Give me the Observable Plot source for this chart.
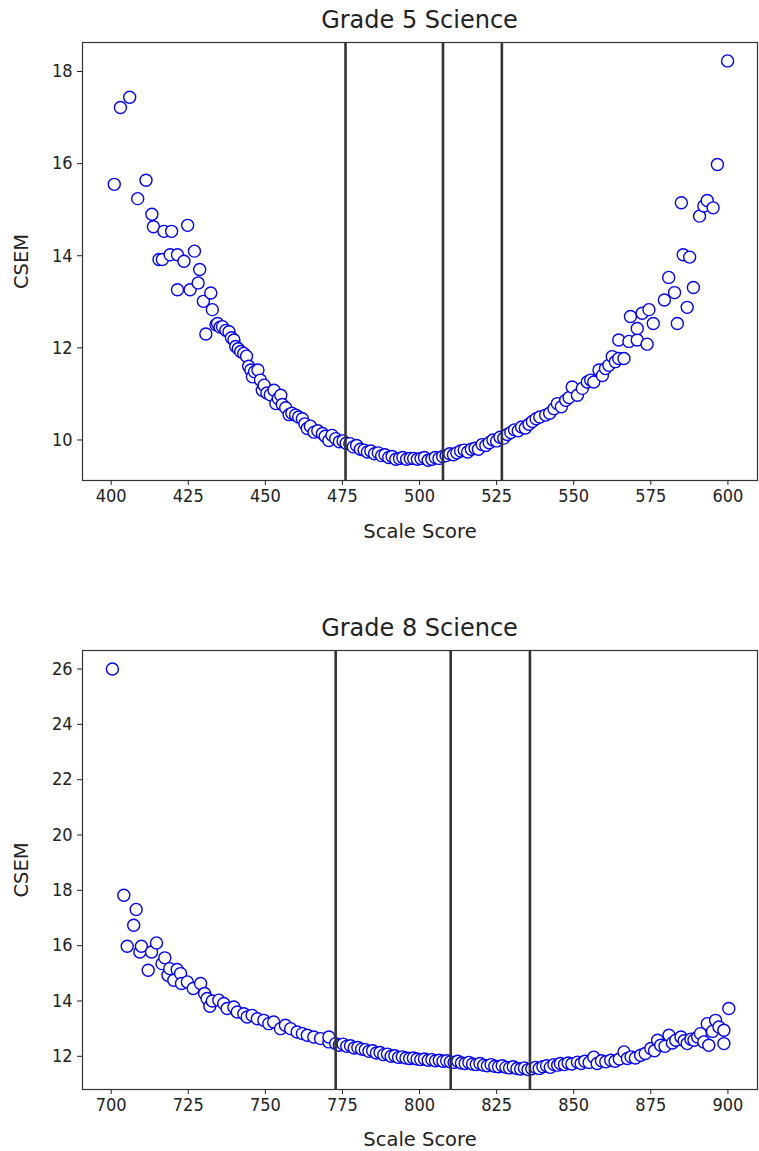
<!DOCTYPE html>
<html>
<head>
<meta charset="utf-8">
<script src="https://cdn.jsdelivr.net/npm/d3@7"></script>
<script src="https://cdn.jsdelivr.net/npm/@observablehq/plot@0.6"></script>
<style>
  html, body { margin: 0; padding: 0; background: #fff; }
  body { width: 759px; height: 1151px; position: relative; overflow: hidden; font-family: "DejaVu Sans", sans-serif; }
  .title { position: absolute; left: 82px; width: 675px; text-align: center; font-size: 24px; color: #222; line-height: 28px; white-space: nowrap; }
  .chart { position: absolute; left: 0; }
</style>
</head>
<body>
<div class="title" id="t1" style="top:6px">Grade 5 Science</div>
<div class="chart" id="c1" style="top:32px"></div>
<div class="title" id="t2" style="top:614px">Grade 8 Science</div>
<div class="chart" id="c2" style="top:640px"></div>
<script>
// ---- Grade 5 Science ----
const g5Score = [401,403,406,408.6,411.3,413.2,413.7,415.5,416.6,417.1,419.1,419.6,421.5,421.5,423.6,424.8,425.6,427.0,428.2,428.7,429.9,430.7,432.3,432.8,434.0,434.5,435.3,436.1,437.2,438.2,439.0,439.8,440.4,441.2,442.0,443.0,443.9,444.6,445.3,445.8,446.5,447.6,448.4,449.0,449.6,450.5,451.6,452.8,453.4,454.2,455.0,455.5,456.6,457.7,458.6,459.8,460.8,462.0,462.8,463.6,464.6,465.8,467.0,468.5,469.4,470.6,471.6,472.8,474.0,475.2,476.2,477.4,478.5,479.6,480.8,482.0,483.1,484.2,485.4,486.6,487.7,488.8,490.0,491.1,492.3,493.5,494.6,495.8,497.0,498.1,499.3,500.5,501.6,502.8,504.0,505.1,506.3,507.5,508.6,509.8,511.0,512.1,513.3,514.5,515.6,516.8,518.0,519.1,520.3,521.5,522.6,523.8,525.0,526.1,527.3,528.5,529.6,530.8,532.0,533.1,534.3,535.5,536.6,537.8,539.0,540.9,542.2,543.6,544.7,546.0,547.4,548.5,549.5,551.2,552.8,554.4,555.5,556.5,558.2,559.3,560.3,561.4,562.5,563.5,564.6,564.6,566.3,567.9,568.4,570.6,570.6,572.2,573.8,574.4,575.8,579.4,580.8,582.7,583.6,584.9,585.5,586.8,587.6,588.8,590.8,592.2,593.3,595.2,596.6,599.9];
const g5Csem = [15.55,17.22,17.44,15.24,15.64,14.90,14.63,13.92,13.92,14.53,14.02,14.53,14.02,13.26,13.88,14.66,13.26,14.10,13.41,13.70,13.01,12.30,13.19,12.83,12.50,12.53,12.45,12.46,12.38,12.35,12.22,12.17,12.03,11.98,11.92,11.88,11.82,11.60,11.52,11.37,11.48,11.52,11.30,11.08,11.19,11.02,10.98,11.08,10.79,10.90,10.97,10.77,10.70,10.55,10.58,10.54,10.50,10.46,10.35,10.25,10.30,10.17,10.20,10.14,10.08,9.99,10.10,10.03,9.96,9.98,9.93,9.92,9.85,9.88,9.80,9.78,9.74,9.76,9.70,9.72,9.66,9.68,9.62,9.64,9.58,9.60,9.62,9.58,9.60,9.60,9.58,9.60,9.62,9.56,9.58,9.62,9.60,9.64,9.66,9.70,9.68,9.72,9.76,9.78,9.74,9.80,9.82,9.80,9.90,9.88,9.94,10.00,9.98,10.06,10.04,10.12,10.16,10.22,10.20,10.28,10.26,10.34,10.40,10.46,10.50,10.54,10.58,10.68,10.79,10.72,10.86,10.92,11.15,10.97,11.12,11.26,11.30,11.26,11.52,11.40,11.55,11.62,11.81,11.70,11.77,12.17,11.77,12.14,12.68,12.17,12.42,12.75,12.08,12.83,12.53,13.04,13.53,13.20,12.53,15.15,14.02,12.88,13.97,13.31,14.86,15.08,15.20,15.04,15.98,18.23];
const g5Cuts = [476, 507.6, 526.7];
const g5XTicks = [400, 425, 450, 475, 500, 525, 550, 575, 600];
const g5YTicks = [10, 12, 14, 16, 18];

// ---- Grade 8 Science ----
const g8Score = [700.4,704.1,705.2,707.3,708.1,709.3,709.8,712.0,713.1,714.7,716.5,717.4,718.4,719.0,720.3,721.4,722.5,722.8,724.7,726.6,729.0,730.3,731.1,732.0,732.8,734.9,736.5,737.6,739.8,740.9,743.0,744.1,745.7,747.4,749.5,751.1,752.7,754.9,756.5,758.2,760.3,762.0,763.6,765.7,767.9,770.6,770.6,772.8,774.0,775.2,776.4,777.6,778.8,780.0,781.2,782.4,783.6,784.8,786.0,787.2,788.4,789.6,790.8,792.0,793.2,794.4,795.6,796.8,798.0,799.2,800.4,801.6,802.8,804.0,805.2,806.4,807.6,808.8,810.0,811.2,812.4,813.6,814.8,816.0,817.2,818.4,819.6,820.8,822.0,823.2,824.4,825.6,826.8,828.0,829.2,830.4,831.6,832.8,834.0,835.2,836.4,837.6,838.8,840.0,841.2,842.4,843.6,844.8,845.7,847.0,848.2,849.4,851.2,852.4,853.6,855.0,856.5,857.6,859.0,860.4,862.0,863.4,864.8,866.3,867.4,868.6,870.0,871.7,873.2,875.0,876.2,877.2,878.2,879.6,880.9,882.0,883.1,884.8,885.8,886.8,888.0,889.0,890.2,891.1,892.2,893.3,893.8,895.0,896.0,897.1,898.7,898.7,900.3];
const g8Csem = [26.0,17.82,15.98,16.74,17.31,15.77,15.98,15.11,15.77,16.10,15.35,15.56,14.93,15.17,14.75,15.14,14.99,14.63,14.69,14.45,14.63,14.27,14.09,13.81,14.00,14.03,13.91,13.73,13.78,13.60,13.54,13.42,13.48,13.36,13.30,13.18,13.24,13.00,13.12,13.00,12.88,12.82,12.76,12.70,12.64,12.52,12.70,12.46,12.40,12.44,12.36,12.38,12.30,12.32,12.26,12.24,12.18,12.20,12.12,12.14,12.06,12.08,12.00,12.02,11.96,11.98,11.94,11.92,11.94,11.90,11.88,11.90,11.86,11.88,11.84,11.86,11.82,11.84,11.80,11.78,11.82,11.76,11.74,11.78,11.72,11.70,11.74,11.68,11.66,11.70,11.64,11.62,11.66,11.60,11.58,11.62,11.56,11.54,11.58,11.52,11.55,11.60,11.56,11.62,11.66,11.60,11.70,11.68,11.74,11.70,11.76,11.72,11.79,11.74,11.82,11.78,11.97,11.74,11.84,11.80,11.86,11.82,11.90,12.16,11.92,11.98,11.94,12.04,12.10,12.28,12.20,12.58,12.40,12.36,12.76,12.48,12.58,12.70,12.56,12.46,12.62,12.58,12.70,12.82,12.52,13.18,12.40,12.90,13.30,13.06,12.94,12.46,13.73];
const g8Cuts = [772.8, 810.1, 835.8];
const g8XTicks = [700, 725, 750, 775, 800, 825, 850, 875, 900];
const g8YTicks = [12, 14, 16, 18, 20, 22, 24, 26];

const tickFont = "'DejaVu Sans Condensed', 'DejaVu Sans', sans-serif";

function makeChart({score, csem, cuts, xTicks, yTicks, xDomain, yDomain, height, marginTop, marginBottom, xLabelOffset}) {
  const data = score.map((s, i) => ({score: s, csem: csem[i]}));
  return Plot.plot({
    width: 759,
    height,
    marginLeft: 82,
    marginRight: 2,
    marginTop,
    marginBottom,
    style: {fontFamily: "DejaVu Sans", fontSize: "18px", color: "#222", background: "white"},
    x: {domain: xDomain},
    y: {domain: yDomain},
    marks: [
      Plot.dot(data, {x: "score", y: "csem", r: 6, stroke: "#0000ff", fill: "white", strokeWidth: 1.4}),
      Plot.ruleX(cuts, {stroke: "#333", strokeWidth: 2.6}),
      Plot.frame({stroke: "#333", strokeWidth: 1.2}),
      Plot.axisX({ticks: xTicks, tickSize: 5, tickPadding: 4, tickFormat: d => String(d), label: null, fontFamily: tickFont, fontSize: 18}),
      Plot.axisX({ticks: [], label: "Scale Score", labelAnchor: "center", labelArrow: "none", labelOffset: xLabelOffset, fontSize: 19.5}),
      Plot.axisY({ticks: yTicks, tickSize: 5, tickPadding: 5, tickFormat: d => String(d), label: null, fontFamily: tickFont, fontSize: 18}),
      Plot.axisY({ticks: [], label: "CSEM", labelAnchor: "center", labelArrow: "none", labelOffset: 68, fontSize: 19.5})
    ]
  });
}

document.getElementById("c1").append(makeChart({
  score: g5Score, csem: g5Csem, cuts: g5Cuts, xTicks: g5XTicks, yTicks: g5YTicks,
  xDomain: [390.7, 609.6], yDomain: [9.12, 18.63],
  height: 513, marginTop: 10, marginBottom: 65, xLabelOffset: 57
}));
document.getElementById("c2").append(makeChart({
  score: g8Score, csem: g8Csem, cuts: g8Cuts, xTicks: g8XTicks, yTicks: g8YTicks,
  xDomain: [690.7, 909.6], yDomain: [10.8, 26.67],
  height: 511, marginTop: 10, marginBottom: 62, xLabelOffset: 56
}));
</script>
</body>
</html>
